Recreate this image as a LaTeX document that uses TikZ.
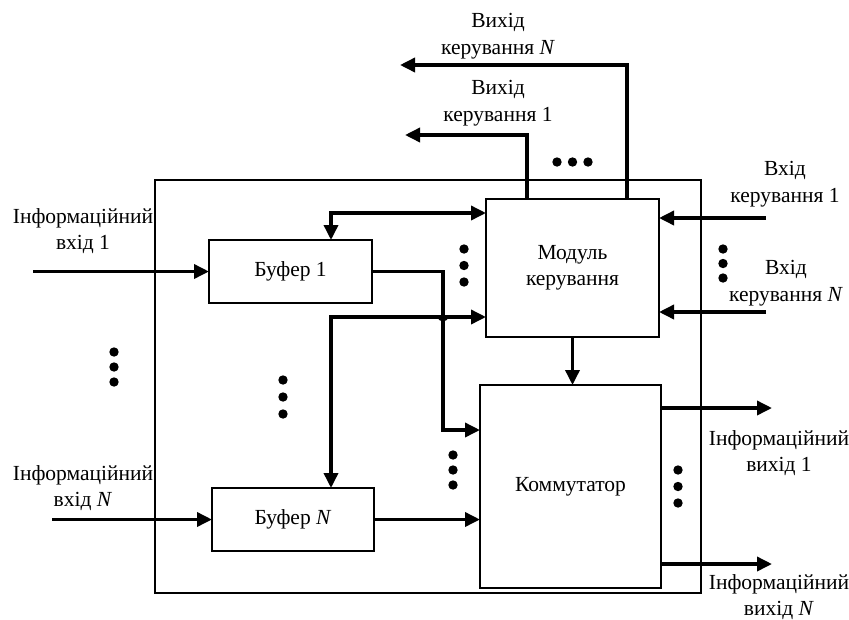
\documentclass[tikz,border=0pt]{standalone}
\usepackage{fontspec}
\setmainfont{Liberation Serif}
\usetikzlibrary{arrows.meta}
\tikzset{
  box/.style={draw, line width=2.6pt, rectangle, inner sep=0pt, outer sep=0pt, align=center},
  conn/.style={line width=3.5pt, -{Triangle[length=15pt,width=14pt]}},
  both/.style={line width=3.5pt, {Triangle[length=15pt,width=14pt]}-{Triangle[length=15pt,width=14pt]}},
  lbl/.style={align=center, inner sep=0pt, font=\fontsize{21.5}{26.5}\selectfont}
}
\newcommand{\vdotsx}[3]{\fill (#1,#2) circle (4.7); \fill (#1,#2+#3) circle (4.7); \fill (#1,#2+2*#3) circle (4.7);}
\begin{document}
\begin{tikzpicture}[x=1pt,y=-1pt, font=\fontsize{21.5}{26.5}\selectfont]
\useasboundingbox (0,0) rectangle (849,619);
% outer box
\node[draw, line width=2.4pt, inner sep=0pt, outer sep=0pt, minimum width=546pt, minimum height=413pt] (outer) at (428,386.5) {};
% blocks
\node[box, minimum width=173pt, minimum height=138pt] (mod) at (572.5,268) {Модуль\\керування};
\node[box, minimum width=181pt, minimum height=203pt] (komm) at (570.5,486.5) {Коммутатор};
\node[box, minimum width=163pt, minimum height=63pt] (b1) at (290.5,271.5) {Буфер 1};
\node[box, minimum width=162pt, minimum height=63pt] (bN) at (293,519.5) {Буфер \textit{N}};
% coordinates
\coordinate (ii1) at (33,271.5);
\coordinate (iiN) at (52,519.5);
\coordinate (j1) at (443,430);
\coordinate (f1) at (331,213);
\coordinate (f2) at (331,317);
\coordinate (o1) at (527,135);
\coordinate (o1e) at (405,135);
\coordinate (oN) at (627,65);
\coordinate (oNe) at (400,65);
\coordinate (i1) at (766,218);
\coordinate (iN) at (766,312);
\coordinate (io1) at (772,408);
\coordinate (ioN) at (772,564);
% info inputs
\draw[conn] (ii1) -- (b1.west);
\draw[conn] (iiN) -- (bN.west);
% buffer outputs
\draw[conn] (b1.east) -| (j1) -- (j1 -| komm.west);
\draw[conn] (bN.east) -- (bN.east -| komm.west);
% feedback lines
\draw[both] (f1 -| mod.west) -- (f1) -- (f1 |- b1.north);
\draw[both] (f2 -| mod.west) -- (f2) -- (f2 |- bN.north);
\draw[line width=2pt] (438.5,316) arc (180:0:4.5);
% module -> kommutator
\draw[conn] (mod.south) -- (mod.south |- komm.north);
% control outputs
\draw[conn] (o1 |- mod.north) -- (o1) -- (o1e);
\draw[conn] (oN |- mod.north) -- (oN) -- (oNe);
% control inputs
\draw[conn] (i1) -- (i1 -| mod.east);
\draw[conn] (iN) -- (iN -| mod.east);
% info outputs
\draw[conn] (io1 -| komm.east) -- (io1);
\draw[conn] (ioN -| komm.east) -- (ioN);
% dots
\fill (557,162) circle (4.7); \fill (572.5,162) circle (4.7); \fill (588,162) circle (4.7);
\vdotsx{723}{249}{14.5}
\vdotsx{464}{249}{16.5}
\vdotsx{114}{352}{15}
\vdotsx{283}{380}{17}
\vdotsx{453}{455}{15}
\vdotsx{678}{470}{16.5}
% labels
\node[lbl] (lon) at (498,36) {Вихід\\керування \textit{N}};
\node[lbl] (lo1) at (498,103) {Вихід\\керування 1};
\node[lbl] (li1) at (785,184) {Вхід\\керування 1};
\node[lbl] (liN) at (786,283) {Вхід\\керування \textit{N}};
\node[lbl] (lii1) at (83,231) {Інформаційний\\вхід 1};
\node[lbl] (liiN) at (83,488) {Інформаційний\\вхід \textit{N}};
\node[lbl] (lio1) at (779,453) {Інформаційний\\вихід 1};
\node[lbl] (lioN) at (779,597) {Інформаційний\\вихід \textit{N}};
\end{tikzpicture}
\end{document}
